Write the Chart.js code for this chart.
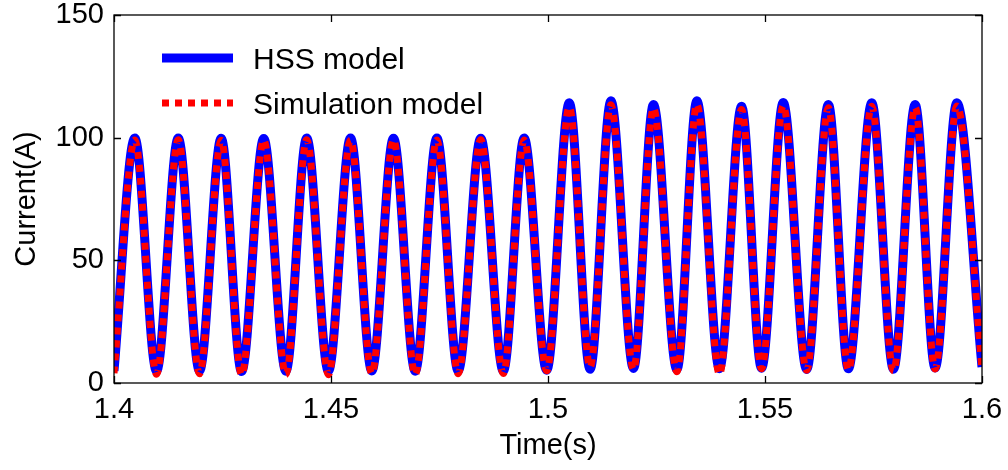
<!DOCTYPE html>
<html>
<head>
<meta charset="utf-8">
<script src="https://cdn.jsdelivr.net/npm/chart.js@4/dist/chart.umd.min.js"></script>
<style>
  html, body { margin: 0; padding: 0; background: #fff; }
  canvas { display: block; }
</style>
</head>
<body>
<canvas id="currentChart" width="1008" height="470"></canvas>
<script>
// axis ticks
const timeTicks = [1.4, 1.45, 1.5, 1.55, 1.6];
const currentTicks = [0, 50, 100, 150];

// extreme points (trough, peak, trough, ...)
const sampleTime = [
  1.4000, 1.4048, 1.4098, 1.4148, 1.4197, 1.4247, 1.4294, 1.4345, 1.4396, 1.4444,
  1.4494, 1.4545, 1.4594, 1.4644, 1.4694, 1.4744, 1.4793, 1.4845, 1.4897, 1.4945,
  1.4997, 1.5049, 1.5097, 1.5145, 1.5197, 1.5243, 1.5297, 1.5343, 1.5395, 1.5446,
  1.5492, 1.5542, 1.5596, 1.5646, 1.5692, 1.5746, 1.5796, 1.5846, 1.5892, 1.5942,
  1.6000
];
const hssCurrent = [
  5.0, 99.9, 4.8, 99.9, 4.9, 99.8, 4.7, 99.7, 4.8, 99.9,
  4.8, 99.9, 4.9, 99.8, 4.8, 99.9, 4.9, 99.8, 4.8, 99.9,
  5.2, 114.2, 5.6, 115.0, 5.9, 113.5, 5.5, 115.0, 5.8, 112.8,
  6.0, 114.3, 5.5, 113.5, 5.8, 114.2, 5.6, 113.5, 6.1, 114.2,
  6.5
];
const simCurrent = [
  4.0, 99.0, 3.6, 99.1, 3.8, 98.9, 3.4, 99.0, 3.5, 99.2,
  3.4, 99.0, 3.9, 99.1, 3.5, 99.0, 3.8, 99.2, 3.9, 99.0,
  5.0, 112.5, 6.5, 113.4, 5.6, 112.0, 4.6, 113.5, 3.6, 111.5,
  5.8, 113.0, 5.2, 112.2, 5.4, 112.8, 4.9, 112.3, 5.7, 112.9,
  5.5
];

const seriesNames = ['HSS model', 'Simulation model'];

const toPoints = (ys) => sampleTime.map((t, i) => ({ x: t, y: ys[i] }));

const fontFamily = '"Liberation Sans", Arial, sans-serif';

// box with inward ticks on all four sides
const framePlugin = {
  id: 'frame',
  afterDraw(chart) {
    const { ctx, chartArea: a, scales } = chart;
    const tl = 7;
    ctx.save();
    ctx.strokeStyle = '#000';
    ctx.lineWidth = 1.3;
    ctx.strokeRect(a.left, a.top, a.right - a.left, a.bottom - a.top);
    ctx.beginPath();
    timeTicks.forEach((v) => {
      const x = Math.round(scales.x.getPixelForValue(v)) + 0.5;
      ctx.moveTo(x, a.bottom); ctx.lineTo(x, a.bottom - tl);
      ctx.moveTo(x, a.top); ctx.lineTo(x, a.top + tl);
    });
    currentTicks.forEach((v) => {
      const y = Math.round(scales.y.getPixelForValue(v)) + 0.5;
      ctx.moveTo(a.left, y); ctx.lineTo(a.left + tl, y);
      ctx.moveTo(a.right, y); ctx.lineTo(a.right - tl, y);
    });
    ctx.stroke();
    ctx.restore();
  },
};

// legend in the upper left of the plot, as in the original figure
const legendPlugin = {
  id: 'innerLegend',
  afterDraw(chart) {
    const { ctx, chartArea: a } = chart;
    const x0 = a.left + 48;
    const rows = [a.top + 43, a.top + 88];
    ctx.save();
    chart.data.datasets.forEach((ds, i) => {
      const y = rows[i];
      ctx.beginPath();
      ctx.strokeStyle = ds.borderColor;
      ctx.lineWidth = ds.borderWidth;
      ctx.setLineDash(ds.borderDash || []);
      ctx.moveTo(x0, y);
      ctx.lineTo(x0 + 71, y);
      ctx.stroke();
      ctx.setLineDash([]);
      ctx.fillStyle = '#000';
      ctx.font = '30px ' + fontFamily;
      ctx.textBaseline = 'middle';
      ctx.fillText(ds.label, x0 + 91, y + 3);
    });
    ctx.restore();
  },
};

const data = {
  datasets: [
    {
      label: seriesNames[0],
      data: toPoints(hssCurrent),
      borderColor: '#0000FF',
      borderWidth: 9,
      order: 2,
    },
    {
      label: seriesNames[1],
      data: toPoints(simCurrent),
      borderColor: '#FF0000',
      borderWidth: 7,
      borderDash: [7, 6],
      order: 1,
    },
  ],
};

const config = {
  type: 'line',
  data,
  plugins: [framePlugin, legendPlugin],
  options: {
    responsive: false,
    animation: false,
    layout: { padding: { left: 0, right: 26, top: 15, bottom: 0 } },
    elements: {
      point: { radius: 0 },
      line: { cubicInterpolationMode: 'monotone', fill: false },
    },
    plugins: {
      legend: { display: false },
      tooltip: { enabled: false },
    },
    scales: {
      x: {
        type: 'linear',
        min: 1.4,
        max: 1.6,
        afterBuildTicks: (scale) => { scale.ticks = timeTicks.map((v) => ({ value: v })); },
        afterFit: (scale) => {
          scale.height = 87;
          scale.paddingLeft = 0;
          scale.paddingRight = 0;
        },
        grid: { display: false, drawTicks: false },
        border: { display: false },
        ticks: {
          color: '#000',
          padding: 10,
          maxRotation: 0,
          autoSkip: false,
          font: { family: fontFamily, size: 29 },
          callback: (v) => String(v),
        },
        title: {
          display: true,
          text: 'Time(s)',
          color: '#000',
          font: { family: fontFamily, size: 29 },
          padding: { top: 0, bottom: 7 },
        },
      },
      y: {
        min: 0,
        max: 150,
        afterBuildTicks: (scale) => { scale.ticks = currentTicks.map((v) => ({ value: v })); },
        afterFit: (scale) => {
          scale.width = 114;
          scale.paddingTop = 0;
          scale.paddingBottom = 0;
        },
        grid: { display: false, drawTicks: false },
        border: { display: false },
        ticks: {
          color: '#000',
          padding: 10,
          font: { family: fontFamily, size: 29 },
          callback: (v) => String(v),
        },
        title: {
          display: true,
          text: 'Current(A)',
          color: '#000',
          font: { family: fontFamily, size: 29 },
          padding: { top: 10, bottom: 0 },
        },
      },
    },
  },
};

new Chart(document.getElementById('currentChart'), config);
</script>
</body>
</html>
